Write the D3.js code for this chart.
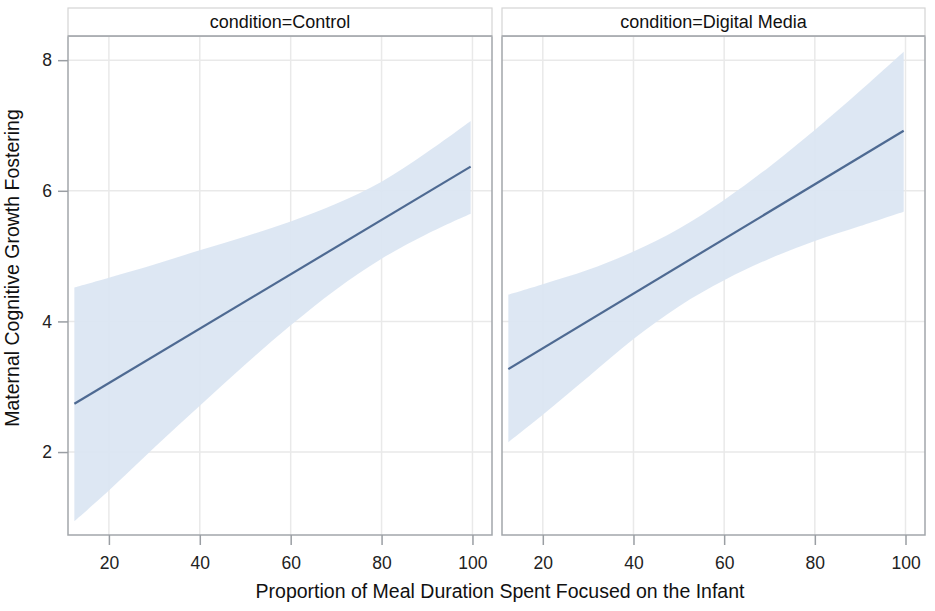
<!DOCTYPE html>
<html>
<head>
<meta charset="utf-8">
<script src="https://cdn.jsdelivr.net/npm/d3@7"></script>
<style>
  body { margin: 0; background: #fff; }
  svg { font-family: "Liberation Sans", Arial, sans-serif; }
  .grid line { stroke: #e9e9e9; stroke-width: 1.5; }
  .tick text { fill: #222; font-size: 17.5px; }
  .tick line { stroke: #9a9ea3; }
  .domain { display: none; }
</style>
</head>
<body>
<svg width="935" height="611"></svg>
<script>
// values
const panels = ["condition=Control", "condition=Digital Media"];
const xTicks = [20, 40, 60, 80, 100];
const yTicks = [2, 4, 6, 8];

const bandX = [12.4, 20, 30, 40, 50, 60, 70, 80, 90, 99.6];
const controlUpper = [4.52, 4.67, 4.87, 5.09, 5.30, 5.53, 5.80, 6.14, 6.59, 7.07];
const controlLower = [0.94, 1.41, 2.07, 2.71, 3.34, 3.94, 4.49, 4.96, 5.34, 5.65];
const mediaUpper = [4.41, 4.57, 4.79, 5.07, 5.42, 5.86, 6.37, 6.93, 7.53, 8.13];
const mediaLower = [2.15, 2.57, 3.15, 3.73, 4.23, 4.63, 4.96, 5.23, 5.46, 5.68];

const lineX = [12.4, 99.6];
const controlFit = [2.74, 6.37];
const mediaFit = [3.27, 6.92];

const svg = d3.select("svg");
const plotTop = 36, plotBottom = 535, headerH = 28;
const panelBoxes = [{x0: 68, x1: 492}, {x0: 502, x1: 925}];
const series = [
    {upper: controlUpper, lower: controlLower, fit: controlFit},
    {upper: mediaUpper, lower: mediaLower, fit: mediaFit}
];

const y = d3.scaleLinear().domain([0.73, 8.37]).range([plotBottom, plotTop]);

panels.forEach((name, i) => {
    const box = panelBoxes[i];
    const s = series[i];
    const x = d3.scaleLinear().domain([11, 104.3]).range([box.x0, box.x1]);
    const g = svg.append("g");

    // gridlines
    g.append("g").attr("class", "grid")
        .selectAll("line").data(xTicks).join("line")
        .attr("x1", d => x(d)).attr("x2", d => x(d))
        .attr("y1", plotTop).attr("y2", plotBottom);
    g.append("g").attr("class", "grid")
        .selectAll("line").data(yTicks).join("line")
        .attr("x1", box.x0).attr("x2", box.x1)
        .attr("y1", d => y(d)).attr("y2", d => y(d));

    // confidence band
    const band = bandX.map((v, k) => ({x: v, lo: s.lower[k], hi: s.upper[k]}));
    g.append("path")
        .datum(band)
        .attr("fill", "#dae5f2")
        .attr("fill-opacity", 0.92)
        .attr("d", d3.area()
            .x(d => x(d.x))
            .y0(d => y(d.lo))
            .y1(d => y(d.hi))
            .curve(d3.curveCatmullRom));

    // fit line
    g.append("path")
        .datum(lineX.map((v, k) => ({x: v, y: s.fit[k]})))
        .attr("fill", "none")
        .attr("stroke", "#4e6a92")
        .attr("stroke-width", 2.2)
        .attr("d", d3.line().x(d => x(d.x)).y(d => y(d.y)));

    // frame
    g.append("rect")
        .attr("x", box.x0).attr("y", plotTop)
        .attr("width", box.x1 - box.x0).attr("height", plotBottom - plotTop)
        .attr("fill", "none").attr("stroke", "#a2a6ab").attr("stroke-width", 1.5);

    // header strip
    g.append("rect")
        .attr("x", box.x0).attr("y", plotTop - headerH)
        .attr("width", box.x1 - box.x0).attr("height", headerH)
        .attr("fill", "#fff").attr("stroke", "#d4d4d4").attr("stroke-width", 1.2);
    g.append("line")
        .attr("x1", box.x0).attr("x2", box.x1).attr("y1", plotTop).attr("y2", plotTop)
        .attr("stroke", "#a2a6ab").attr("stroke-width", 1.5);
    g.append("text")
        .attr("x", (box.x0 + box.x1) / 2).attr("y", plotTop - headerH / 2)
        .attr("dy", "0.36em").attr("text-anchor", "middle")
        .attr("font-size", 18).attr("fill", "#111")
        .text(name);

    // x axis
    g.append("g")
        .attr("transform", `translate(0,${plotBottom})`)
        .call(d3.axisBottom(x).tickValues(xTicks).tickSize(10).tickPadding(12))
        .call(a => a.selectAll(".tick line").attr("stroke-width", 1.5));

    // y axis on first panel only
    if (i === 0) {
        g.append("g")
            .attr("transform", `translate(${box.x0},0)`)
            .call(d3.axisLeft(y).tickValues(yTicks).tickSize(10).tickPadding(6))
            .call(a => a.selectAll(".tick line").attr("stroke-width", 1.5));
    }
});

svg.append("text")
    .attr("x", 500).attr("y", 598)
    .attr("text-anchor", "middle").attr("font-size", 19.5).attr("fill", "#111")
    .text("Proportion of Meal Duration Spent Focused on the Infant");

svg.append("text")
    .attr("transform", "translate(19,268) rotate(-90)")
    .attr("text-anchor", "middle").attr("font-size", 19.5).attr("fill", "#111")
    .text("Maternal Cognitive Growth Fostering");
</script>
</body>
</html>
